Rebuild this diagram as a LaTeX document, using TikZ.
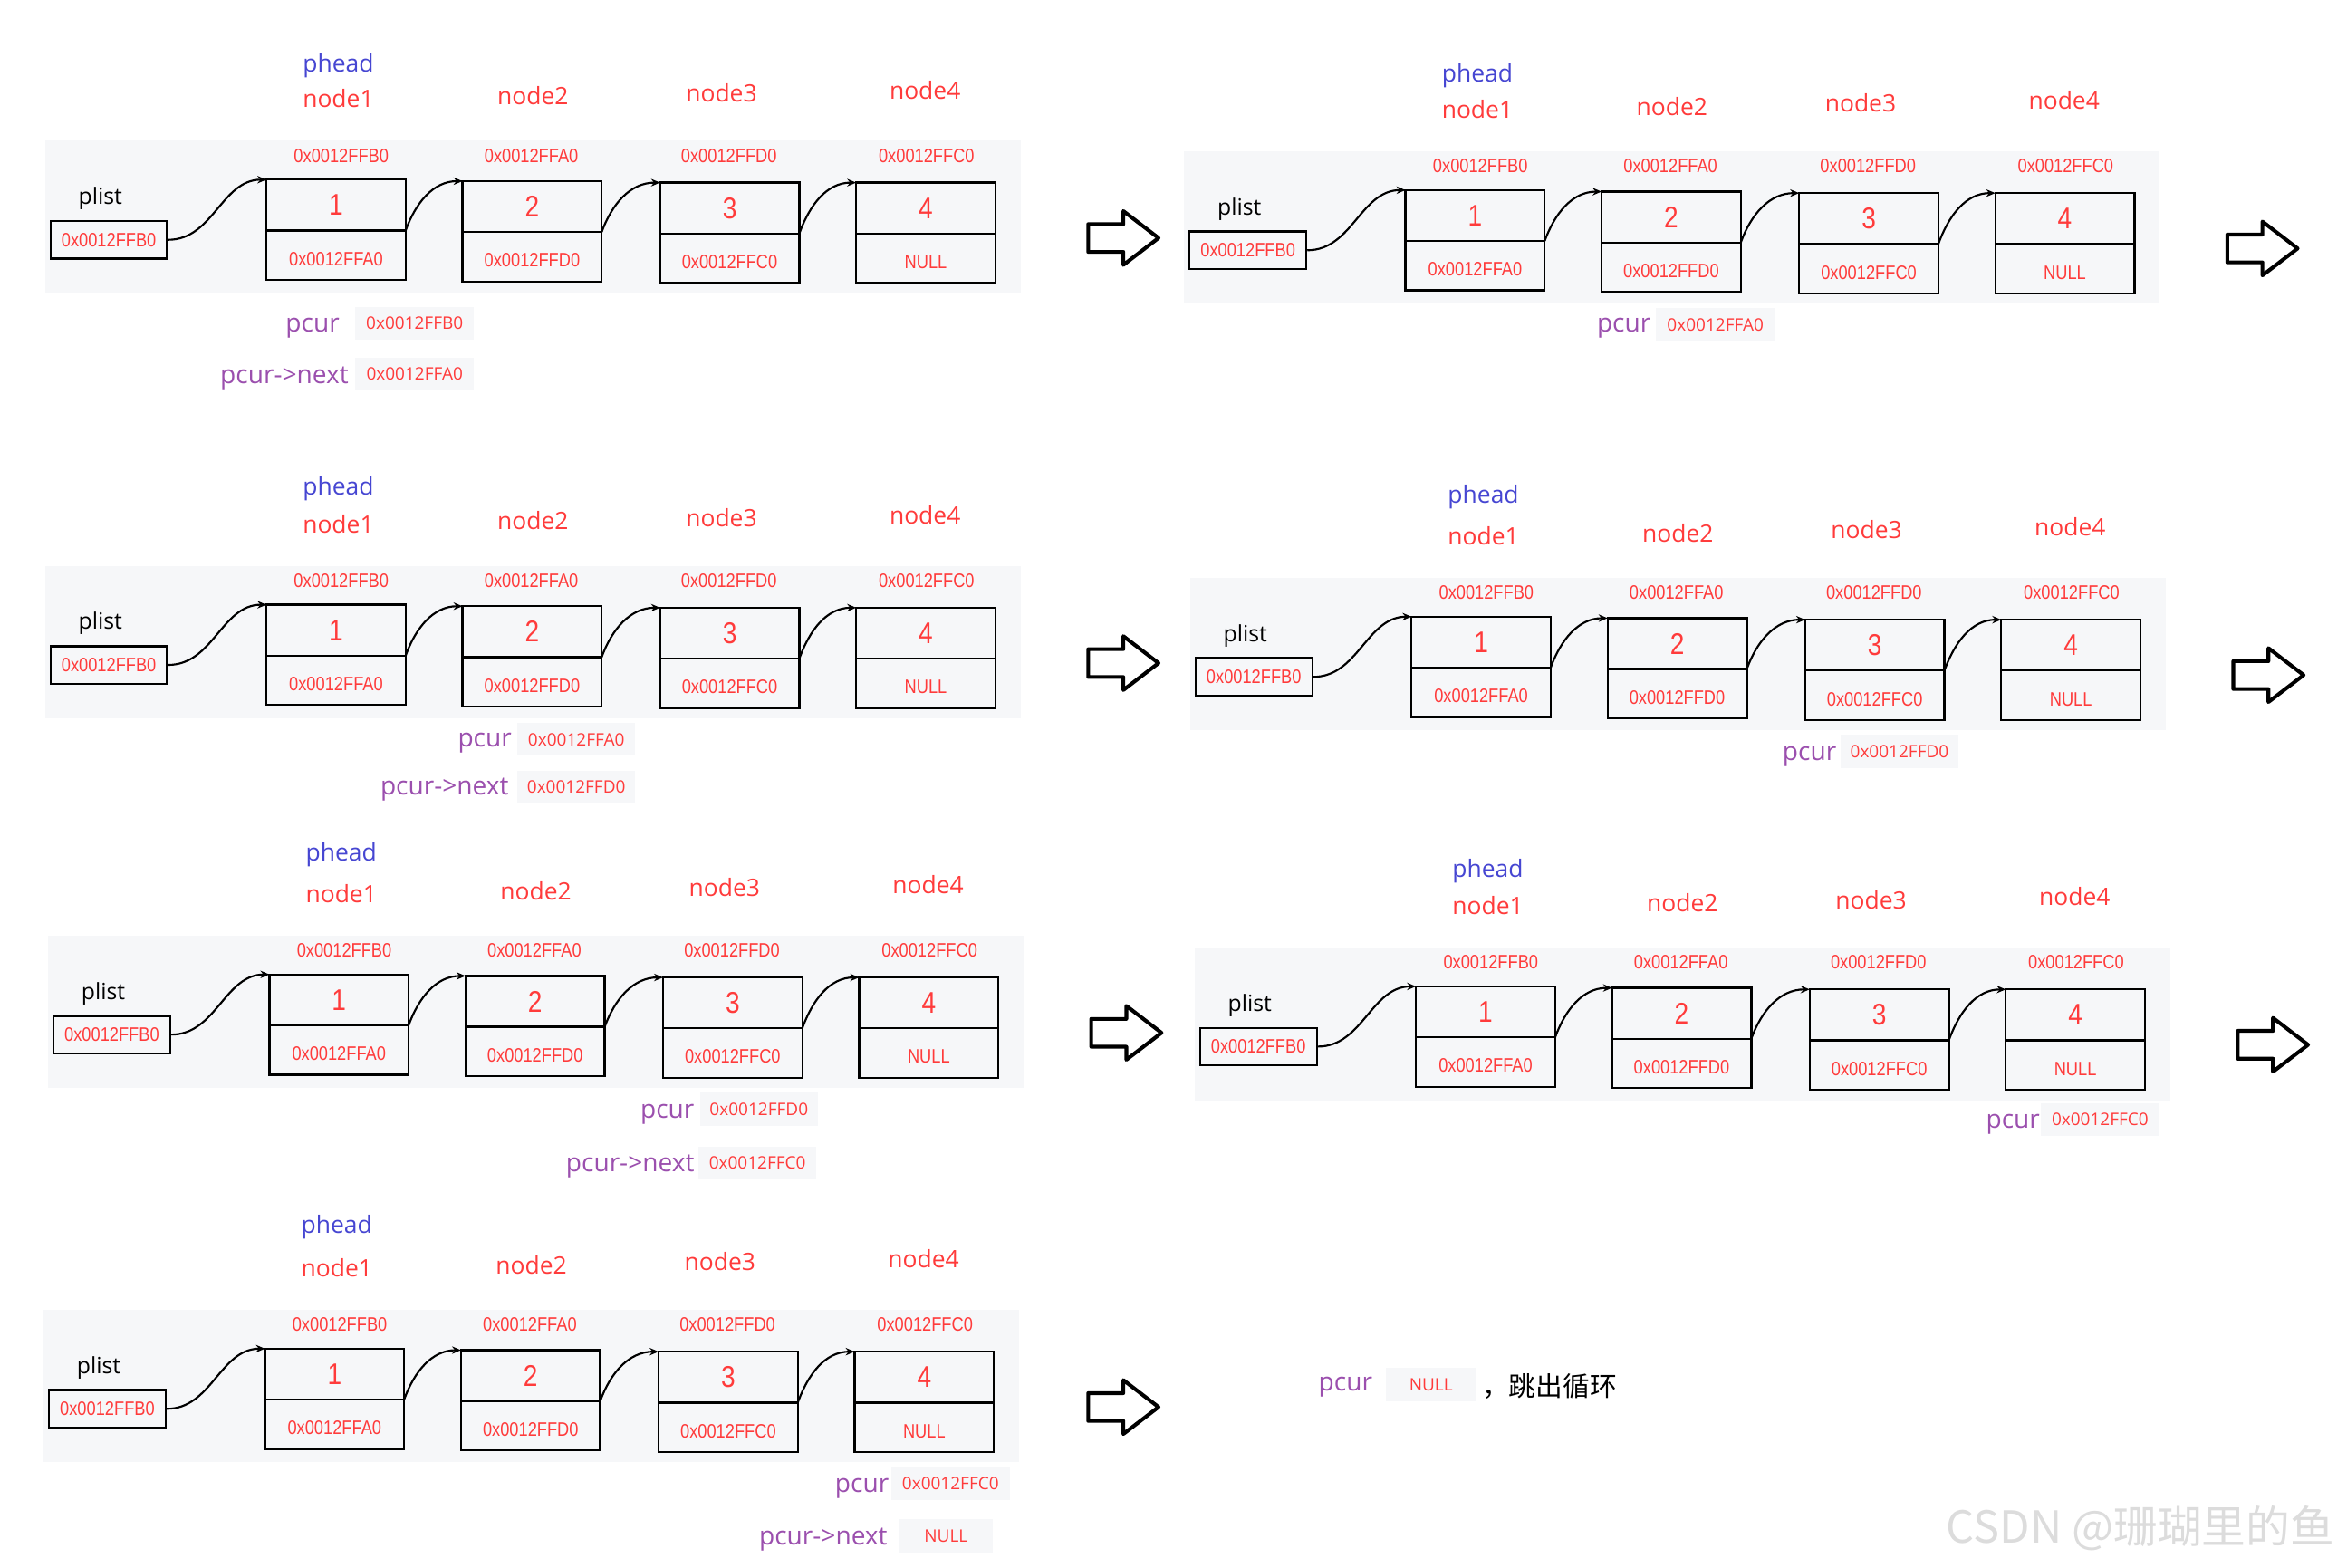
\documentclass[tikz,border=0pt]{standalone}
\usepackage{fontspec}
\setmainfont{Open Sans}
\newfontfamily\narrowf[FakeStretch=0.85]{Liberation Sans}
\newfontfamily\cjkf{Noto Sans CJK SC}
\usetikzlibrary{arrows.meta}
\definecolor{redc}{HTML}{FF3B3B}
\definecolor{bluec}{HTML}{4646D2}
\definecolor{purc}{HTML}{9B4FAE}
\definecolor{bgc}{HTML}{F6F7F9}
\definecolor{wmc}{HTML}{DCDCDC}
\tikzset{
  cell/.style={draw=black, line width=1.4pt, minimum width=93pt, inner sep=0pt, outer sep=0pt, anchor=north west},
  numtxt/.style={font=\narrowf\fontsize{20}{20}\selectfont, text=redc},
  hextxt/.style={font=\narrowf\fontsize{13}{13}\selectfont, text=redc},
  addr/.style={hextxt, inner sep=0pt},
  headlbl/.style={font=\fontsize{16}{16}\selectfont, text=bluec, inner sep=0pt, anchor=base},
  nodelbl/.style={font=\fontsize{16}{16}\selectfont, text=redc, inner sep=0pt, anchor=base},
  plbl/.style={font=\fontsize{15}{15}\selectfont, text=black, inner sep=0pt, anchor=base},
  plbox/.style={draw=black, line width=1.4pt, minimum width=78pt, minimum height=25pt, inner sep=0pt, anchor=north west, hextxt},
  curlbl/.style={font=\fontsize{17}{17}\selectfont, text=purc, inner sep=0pt, anchor=base east},
  hexbg/.style={fill=bgc, font=\fontsize{11.5}{11.5}\selectfont, text=redc, minimum width=79pt, minimum height=22pt, text height=8.2pt, text depth=0pt, inner sep=0pt},
  conn/.style={draw=black, line width=1.3pt, -{Stealth[length=6pt,width=5pt]}},
  bigarrow/.style={draw=black, line width=2.5pt, line join=round}
}
\newcommand\lpanel[4]{%
  \fill[bgc] ({#2-148},{#3-26}) rectangle ({#2+504},{#3+76});
  \node[headlbl] (#1ph) at ({#2+48},{#3-#4+6}) {phead};
  \node[nodelbl] (#1n1) at ({#2+48},{#3-48}) {node1};
  \node[nodelbl] (#1n2) at ({#2+178},{#3-50}) {node2};
  \node[nodelbl] (#1n3) at ({#2+304},{#3-52}) {node3};
  \node[nodelbl] (#1n4) at ({#2+440},{#3-54}) {node4};
  \node[addr] (#1a1) at ({#2+50},{#3-16}) {0x0012FFB0};
  \node[addr] (#1a2) at ({#2+177},{#3-16}) {0x0012FFA0};
  \node[addr] (#1a3) at ({#2+309},{#3-16}) {0x0012FFD0};
  \node[addr] (#1a4) at ({#2+441},{#3-16}) {0x0012FFC0};
  \node[plbl] (#1plt) at ({#2-111},{#3+16.5}) {plist};
  \node[plbox] (#1pl) at ({#2-145},{#3+27}) {0x0012FFB0};
  \node[cell, minimum height=34pt, numtxt] (#1t1) at ({#2},{#3}) {1};
  \node[cell, minimum height=33pt, hextxt, text height=14pt] (#1d1) at ({#2},{#3+34}) {0x0012FFA0};
  \node[cell, minimum height=34pt, numtxt] (#1t2) at ({#2+131},{#3+1}) {2};
  \node[cell, minimum height=33pt, hextxt, text height=14pt] (#1d2) at ({#2+131},{#3+35}) {0x0012FFD0};
  \node[cell, minimum height=34pt, numtxt] (#1t3) at ({#2+263},{#3+2}) {3};
  \node[cell, minimum height=33pt, hextxt, text height=14pt] (#1d3) at ({#2+263},{#3+36}) {0x0012FFC0};
  \node[cell, minimum height=34pt, numtxt] (#1t4) at ({#2+394},{#3+2}) {4};
  \node[cell, minimum height=33pt, hextxt, text height=14pt] (#1d4) at ({#2+394},{#3+36}) {NULL};
  \draw[conn] (#1pl.east) to[out=0,in=180] (#1t1.north west);
  \draw[conn] (#1d1.north east) to[out=70,in=180] (#1t2.north west);
  \draw[conn] (#1d2.north east) to[out=70,in=180] (#1t3.north west);
  \draw[conn] (#1d3.north east) to[out=70,in=180] (#1t4.north west);
}
\newcommand\bigarr[2]{%
  \draw[bigarrow] ({#1-23},{#2-9.3}) -- ({#1+0.5},{#2-9.3}) -- ({#1+0.5},{#2-18}) -- ({#1+24},{#2}) -- ({#1+0.5},{#2+18}) -- ({#1+0.5},{#2+9.3}) -- ({#1-23},{#2+9.3}) -- cycle;
}
\begin{document}
\begin{tikzpicture}[x=1pt,y=-1pt]
\useasboundingbox (0,0) rectangle (1568,1047);
\fill[white] (0,0) rectangle (1568,1047);

% panels
\lpanel{A}{178}{120}{78}
\lpanel{B}{939}{127}{78}
\lpanel{C}{178}{404}{79}
\lpanel{D}{943}{412}{82}
\lpanel{E}{180}{651}{82}
\lpanel{F}{946}{659}{79}
\lpanel{G}{177}{901}{83}

% big arrows
\bigarr{750}{159}
\bigarr{1511}{166}
\bigarr{750}{443}
\bigarr{1515}{451}
\bigarr{752}{690}
\bigarr{1518}{698}
\bigarr{750}{940}

% pcur labels
\node[curlbl] (Ac) at (227,222) {pcur};
\node[hexbg] (Ach) at (277,216) {0x0012FFB0};
\node[curlbl] (An) at (233,256) {pcur->next};
\node[hexbg] (Anh) at (277,250) {0x0012FFA0};

\node[curlbl] (Bc) at (1103,222) {pcur};
\node[hexbg] (Bch) at (1146,217) {0x0012FFA0};

\node[curlbl] (Cc) at (342,499) {pcur};
\node[hexbg] (Cch) at (385,494) {0x0012FFA0};
\node[curlbl] (Cn) at (340,531) {pcur->next};
\node[hexbg] (Cnh) at (385,526) {0x0012FFD0};

\node[curlbl] (Dc) at (1227,508) {pcur};
\node[hexbg] (Dch) at (1269,502) {0x0012FFD0};

\node[curlbl] (Ec) at (464,747) {pcur};
\node[hexbg] (Ech) at (507,741) {0x0012FFD0};
\node[curlbl] (En) at (464,783) {pcur->next};
\node[hexbg] (Enh) at (506,777) {0x0012FFC0};

\node[curlbl] (Fc) at (1363,754) {pcur};
\node[hexbg] (Fch) at (1403,748) {0x0012FFC0};

\node[curlbl] (Gc) at (594,997) {pcur};
\node[hexbg] (Gch) at (635,991) {0x0012FFC0};
\node[curlbl] (Gn) at (593,1032) {pcur->next};
\node[hexbg, minimum width=63pt] (Gnh) at (632,1026) {NULL};

% final
\node[curlbl] (Hc) at (917,929) {pcur};
\node[hexbg, minimum width=60pt] (Hch) at (956,925) {NULL};
\node[font=\cjkf\fontsize{18}{18}\selectfont, anchor=west, inner sep=0pt] (Ht) at (990,926) {，跳出循环};

% watermark
\node[font=\cjkf\fontsize{29.5}{29.5}\selectfont, text=wmc, inner sep=0pt] (wm) at (1430,1021) {CSDN @珊瑚里的鱼};
\end{tikzpicture}
\end{document}
